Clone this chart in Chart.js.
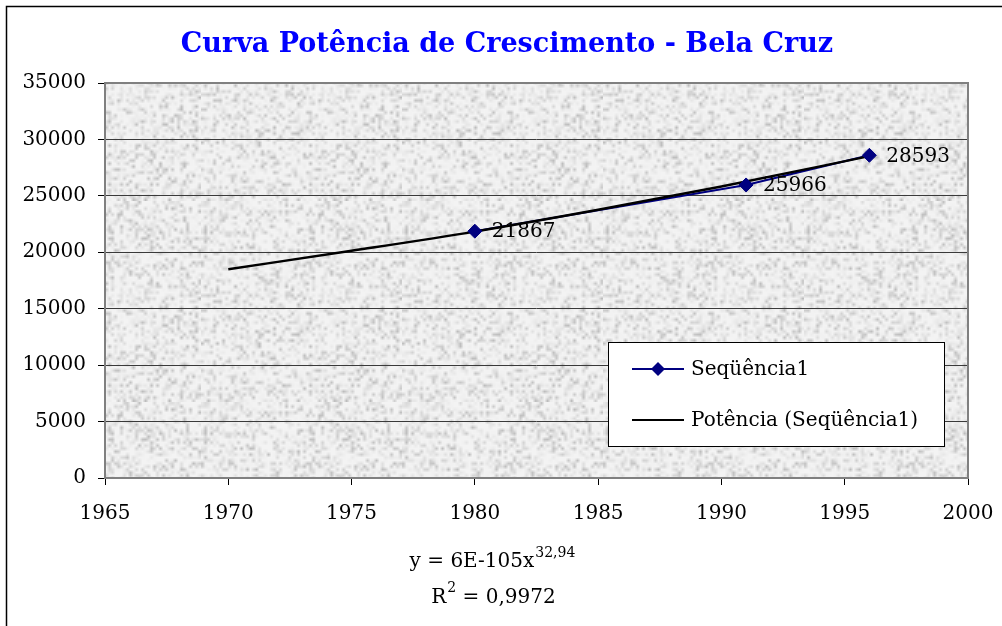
<!DOCTYPE html>
<html>
<head>
<meta charset="utf-8">
<script src="https://cdn.jsdelivr.net/npm/chart.js@4"></script>
<style>
  html, body { margin: 0; padding: 0; background: #fff; }
</style>
</head>
<body>
<canvas id="line-chart" width="1002" height="626"></canvas>
<script>
// data
var years = [1980, 1991, 1996];
var population = [21867, 25966, 28593];
var trendYears = [1970, 1975, 1980, 1985, 1990, 1996];
var trendValues = [18500, 20130, 21830, 23760, 25820, 28520];
var xTicks = [1965, 1970, 1975, 1980, 1985, 1990, 1995, 2000];
var yTicks = [0, 5000, 10000, 15000, 20000, 25000, 30000, 35000];
var seriesName = "Seqüência1";
var trendName = "Potência (Seqüência1)";
var titleText = "Curva Potência de Crescimento - Bela Cruz";
var equationMain = "y = 6E-105x";
var equationExp = "32,94";
var rSquared = "0,9972";

var serif = "'DejaVu Serif', serif";

// grey stone-like texture for the plot area (integer hash, decoration only)
function hash(i) {
  var h = Math.imul(i ^ 0x5bd1e995, 0x27d4eb2d);
  h ^= h >>> 15;
  h = Math.imul(h, 0x85ebca6b);
  h ^= h >>> 13;
  return (h >>> 0) / 4294967296;
}
var texture = (function () {
  var n = 67, k = 3;
  var small = document.createElement("canvas");
  small.width = n; small.height = n;
  var g = small.getContext("2d");
  var img = g.createImageData(n, n);
  for (var i = 0; i < n * n; i++) {
    var h = hash(i + 17);
    var v = 243 - Math.floor(Math.pow(h, 4) * 55);
    img.data[i * 4] = v;
    img.data[i * 4 + 1] = v;
    img.data[i * 4 + 2] = v;
    img.data[i * 4 + 3] = 255;
  }
  g.putImageData(img, 0, 0);
  var c = document.createElement("canvas");
  c.width = n * k; c.height = n * k;
  var g2 = c.getContext("2d");
  g2.imageSmoothingEnabled = true;
  g2.drawImage(small, 0, 0, n * k, n * k);
  return c;
})();

function pairs(xs, ys) {
  return xs.map(function (x, i) { return { x: x, y: ys[i] }; });
}

var decorations = {
  id: "decorations",
  beforeDraw: function (chart) {
    var ctx = chart.ctx, a = chart.chartArea;
    ctx.save();
    ctx.fillStyle = "#fff";
    ctx.fillRect(0, 0, chart.width, chart.height);
    ctx.fillStyle = ctx.createPattern(texture, "repeat");
    ctx.fillRect(a.left, a.top, a.right - a.left, a.bottom - a.top);
    // outer frame
    ctx.strokeStyle = "#000";
    ctx.lineWidth = 1.5;
    ctx.strokeRect(6.5, 6.5, 1010, 700);
    // title
    ctx.fillStyle = "#0000ff";
    ctx.font = "bold 27px " + serif;
    ctx.textAlign = "center";
    ctx.textBaseline = "alphabetic";
    ctx.fillText(titleText, 507, 52);
    ctx.restore();
  },
  beforeDatasetsDraw: function (chart) {
    var ctx = chart.ctx, a = chart.chartArea;
    ctx.save();
    ctx.strokeStyle = "#808080";
    ctx.lineWidth = 2;
    ctx.strokeRect(a.left, a.top, a.right - a.left, a.bottom - a.top);
    ctx.restore();
  },
  afterDatasetsDraw: function (chart) {
    var ctx = chart.ctx;
    ctx.save();
    // data labels
    ctx.fillStyle = "#000";
    ctx.font = "20px " + serif;
    ctx.textAlign = "left";
    ctx.textBaseline = "middle";
    chart.getDatasetMeta(2).data.forEach(function (pt, i) {
      ctx.fillText(String(population[i]), pt.x + 17, pt.y + 1);
    });

    // legend
    var lx = 608, ly = 342, lw = 336, lh = 104;
    ctx.fillStyle = "#fff";
    ctx.fillRect(lx, ly, lw, lh);
    ctx.strokeStyle = "#000";
    ctx.lineWidth = 1;
    ctx.strokeRect(lx + 0.5, ly + 0.5, lw, lh);
    var rows = [
      { y: 369, color: "#000080", marker: true, label: seriesName },
      { y: 420, color: "#000", marker: false, label: trendName }
    ];
    rows.forEach(function (r) {
      ctx.strokeStyle = r.color;
      ctx.lineWidth = 2;
      ctx.beginPath();
      ctx.moveTo(632, r.y);
      ctx.lineTo(684, r.y);
      ctx.stroke();
      if (r.marker) {
        ctx.fillStyle = "#000080";
        ctx.beginPath();
        ctx.moveTo(658, r.y - 7);
        ctx.lineTo(665, r.y);
        ctx.lineTo(658, r.y + 7);
        ctx.lineTo(651, r.y);
        ctx.closePath();
        ctx.fill();
      }
      ctx.fillStyle = "#000";
      ctx.fillText(r.label, 691, r.y + 1);
    });

    // trendline equation
    ctx.textBaseline = "alphabetic";
    ctx.font = "20px " + serif;
    var w1 = ctx.measureText(equationMain).width;
    ctx.font = "14px " + serif;
    var w2 = ctx.measureText(equationExp).width;
    var x0 = 492 - (w1 + w2) / 2;
    ctx.font = "20px " + serif;
    ctx.fillText(equationMain, x0, 567);
    ctx.font = "14px " + serif;
    ctx.fillText(equationExp, x0 + w1 + 1, 557);

    ctx.font = "20px " + serif;
    var wr = ctx.measureText("R").width;
    ctx.font = "14px " + serif;
    var ws = ctx.measureText("2").width;
    ctx.font = "20px " + serif;
    var rest = " = " + rSquared;
    var wt = ctx.measureText(rest).width;
    var x1 = 493 - (wr + ws + wt) / 2;
    ctx.fillText("R", x1, 603);
    ctx.font = "14px " + serif;
    ctx.fillText("2", x1 + wr + 1, 592);
    ctx.font = "20px " + serif;
    ctx.fillText(rest, x1 + wr + ws + 1, 603);
    ctx.restore();
  }
};

new Chart(document.getElementById("line-chart"), {
  type: "line",
  data: {
    datasets: [
      {
        label: seriesName,
        data: pairs(years, population),
        borderColor: "#000080",
        borderWidth: 2,
        pointRadius: 0,
        order: 3
      },
      {
        label: trendName,
        data: pairs(trendYears, trendValues),
        borderColor: "#000",
        borderWidth: 2.5,
        pointRadius: 0,
        cubicInterpolationMode: "monotone",
        order: 2
      },
      {
        label: seriesName,
        data: pairs(years, population),
        showLine: false,
        pointStyle: "rectRot",
        pointRadius: 7,
        pointBackgroundColor: "#000080",
        pointBorderColor: "#000080",
        pointBorderWidth: 1,
        order: 1
      }
    ]
  },
  options: {
    responsive: false,
    animation: false,
    devicePixelRatio: 1,
    layout: { padding: { top: 83, right: 34, left: 0, bottom: 0 } },
    plugins: {
      legend: { display: false },
      title: { display: false },
      tooltip: { enabled: false }
    },
    scales: {
      x: {
        type: "linear",
        min: xTicks[0],
        max: xTicks[xTicks.length - 1],
        afterBuildTicks: function (scale) {
          scale.ticks = xTicks.map(function (v) { return { value: v }; });
        },
        afterFit: function (scale) {
          scale.height = 148;
          scale.paddingLeft = 0;
          scale.paddingRight = 0;
        },
        grid: { drawOnChartArea: false, tickLength: 7, tickColor: "#000", tickWidth: 1 },
        border: { display: false },
        ticks: {
          padding: 17,
          color: "#000",
          font: { family: serif, size: 20 },
          maxRotation: 0,
          callback: function (v) { return String(v); }
        }
      },
      y: {
        min: yTicks[0],
        max: yTicks[yTicks.length - 1],
        afterBuildTicks: function (scale) {
          scale.ticks = yTicks.map(function (v) { return { value: v }; });
        },
        afterFit: function (scale) {
          scale.width = 105;
          scale.paddingTop = 0;
          scale.paddingBottom = 0;
        },
        grid: { color: "#3a3a3a", lineWidth: 1, tickLength: 7, tickColor: "#000" },
        border: { display: false },
        ticks: {
          padding: 12,
          color: "#000",
          font: { family: serif, size: 20 },
          callback: function (v) { return String(v); }
        }
      }
    }
  },
  plugins: [decorations]
});
</script>
</body>
</html>
